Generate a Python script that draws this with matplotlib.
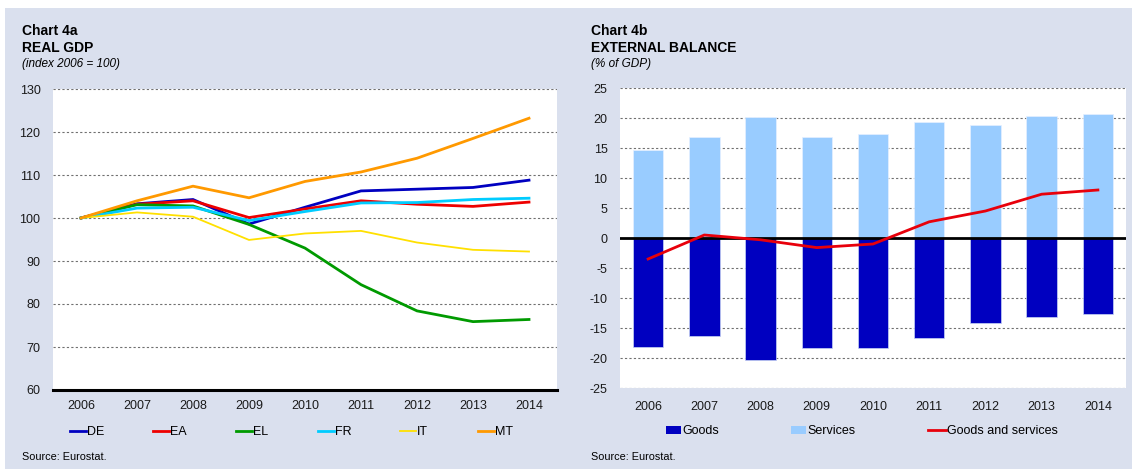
import matplotlib
matplotlib.use("Agg")
import matplotlib.pyplot as plt
from matplotlib.patches import Rectangle, Patch
from matplotlib.lines import Line2D
import numpy as np

plt.rcParams['font.family'] = ['Liberation Sans', 'DejaVu Sans']
plt.rcParams['axes.unicode_minus'] = False

years = ['2006', '2007', '2008', '2009', '2010', '2011', '2012', '2013', '2014']

# Chart 4a: real GDP (index 2006 = 100)
gdp_DE = [100, 103.3, 104.3, 98.6, 102.5, 106.3, 106.7, 107.1, 108.8]
gdp_EA = [100, 103.2, 104.0, 100.1, 102.1, 104.0, 103.2, 102.7, 103.7]
gdp_EL = [100, 103.1, 102.8, 98.5, 93.0, 84.5, 78.4, 75.9, 76.4]
gdp_FR = [100, 102.3, 102.5, 99.4, 101.5, 103.5, 103.6, 104.3, 104.6]
gdp_IT = [100, 101.3, 100.3, 94.9, 96.4, 97.0, 94.3, 92.6, 92.2]
gdp_MT = [100, 104.0, 107.4, 104.7, 108.5, 110.7, 113.9, 118.5, 123.2]

# Chart 4b: external balance (% of GDP)
goods = [-18.1, -16.3, -20.3, -18.4, -18.3, -16.6, -14.2, -13.1, -12.7]
services = [14.7, 16.8, 20.1, 16.8, 17.3, 19.3, 18.8, 20.4, 20.7]
goods_services = [-3.5, 0.5, -0.3, -1.6, -1.0, 2.7, 4.5, 7.3, 8.0]

W, H = 1132, 469
fig = plt.figure(figsize=(W / 100, H / 100), dpi=100)
fig.patch.set_facecolor('white')
BG = '#DAE0EE'
fig.patches.append(Rectangle((5 / W, 0), 1 - 5 / W, 1 - 8 / H, transform=fig.transFigure,
                             facecolor=BG, edgecolor='none', zorder=-10))

def fx(px):
    return px / W

def fy(py):
    return 1 - py / H

ax1 = fig.add_axes([fx(53), fy(390), fx(557) - fx(53), fy(89) - fy(390)])
ax2 = fig.add_axes([fx(620), fy(388), fx(1126) - fx(620), fy(88) - fy(388)])

grid_kw = dict(color='#707070', linewidth=0.8, linestyle=(0, (2, 2)))
TFS = 9

# ---------- Chart 4a ----------
x = np.arange(len(years))
series = [
    ('DE', gdp_DE, '#0000C0', 2.0),
    ('EA', gdp_EA, '#EE0000', 2.0),
    ('EL', gdp_EL, '#009A00', 2.0),
    ('FR', gdp_FR, '#00CCFF', 2.0),
    ('IT', gdp_IT, '#FFE000', 1.3),
    ('MT', gdp_MT, '#FF9900', 2.0),
]
lines1 = []
for name, vals, col, lw in series:
    ln, = ax1.plot(x, vals, color=col, lw=lw, label=name, solid_joinstyle='miter', zorder=3)
    lines1.append(ln)
ax1.set_xlim(-0.5, len(years) - 0.5)
ax1.set_ylim(60, 130)
ax1.set_yticks(np.arange(60, 131, 10))
ax1.set_xticks(x)
ax1.set_xticklabels(years)
for yv in np.arange(70, 131, 10):
    ax1.axhline(yv, zorder=1, **grid_kw)
for s in ['left', 'right', 'top']:
    ax1.spines[s].set_visible(False)
ax1.spines['bottom'].set_linewidth(2.2)
ax1.spines['bottom'].set_color('black')
ax1.tick_params(axis='both', length=0, labelsize=TFS, colors='#1a1a1a')
ax1.tick_params(axis='y', pad=9)
ax1.tick_params(axis='x', pad=7)

# ---------- Chart 4b ----------
b1 = ax2.bar(x, goods, width=0.54, color='#0000C0', edgecolor='#c8d4f4', linewidth=0.5,
             label='Goods', zorder=2)
b2 = ax2.bar(x, services, width=0.54, color='#99CCFF', edgecolor='#e6f0ff', linewidth=0.5,
             label='Services', zorder=2)
ln2, = ax2.plot(x, goods_services, color='#E8000B', lw=2.0, label='Goods and services', zorder=4)
ax2.set_xlim(-0.5, len(years) - 0.5)
ax2.set_ylim(-25, 25)
ax2.set_yticks(np.arange(-25, 26, 5))
ax2.set_xticks(x)
ax2.set_xticklabels(years)
for yv in np.arange(-25, 26, 5):
    if yv != 0:
        ax2.axhline(yv, zorder=1, **grid_kw)
ax2.axhline(0, color='black', lw=2.0, zorder=3)
for s in ax2.spines.values():
    s.set_visible(False)
ax2.tick_params(axis='both', length=0, labelsize=TFS, colors='#1a1a1a')
ax2.tick_params(axis='y', pad=9)
ax2.tick_params(axis='x', pad=9)

# ---------- Titles ----------
for x0, t1, t2, t3 in [(22, 'Chart 4a', 'REAL GDP', '(index 2006 = 100)'),
                       (591, 'Chart 4b', 'EXTERNAL BALANCE', '(% of GDP)')]:
    fig.text(fx(x0), fy(31), t1, fontsize=10, fontweight='bold', va='center', ha='left')
    fig.text(fx(x0), fy(48), t2, fontsize=10, fontweight='bold', va='center', ha='left')
    fig.text(fx(x0), fy(64), t3, fontsize=8.5, style='italic', va='center', ha='left')
    fig.text(fx(x0), fy(457), 'Source: Eurostat.', fontsize=7.8, va='center', ha='left')

# ---------- Legends ----------
leg_kw = dict(frameon=False, fontsize=TFS, handletextpad=0.1, borderpad=0,
              borderaxespad=0, loc='center left')
for ln, px in zip(lines1, [70, 153, 236, 318, 400, 478]):
    fig.legend(handles=[ln], labels=[ln.get_label()], handlelength=1.25,
               bbox_to_anchor=(fx(px), fy(432)), **leg_kw)

fig.legend(handles=[Patch(facecolor='#0000C0', edgecolor='none')], labels=['Goods'],
           handlelength=1.2, handleheight=0.6, bbox_to_anchor=(fx(666), fy(431)), **leg_kw)
fig.legend(handles=[Patch(facecolor='#99CCFF', edgecolor='none')], labels=['Services'],
           handlelength=1.2, handleheight=0.6, bbox_to_anchor=(fx(791), fy(431)), **leg_kw)
fig.legend(handles=[Line2D([], [], color='#E8000B', lw=2.0)], labels=['Goods and services'],
           handlelength=1.4, bbox_to_anchor=(fx(928), fy(431)), **leg_kw)

fig.savefig('out.png', dpi=100, facecolor=fig.get_facecolor())
